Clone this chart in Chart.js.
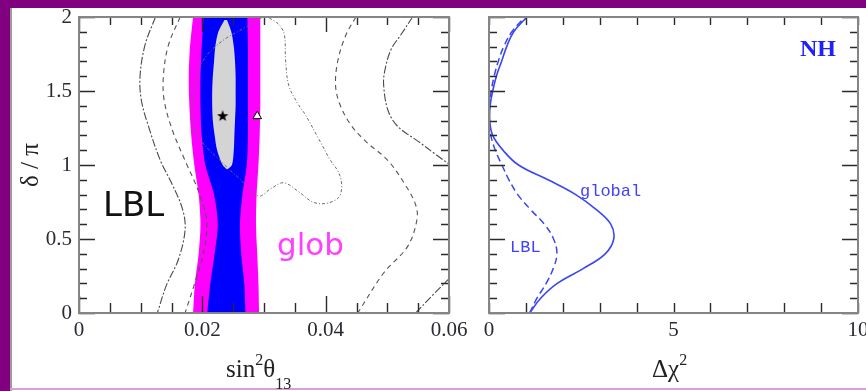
<!DOCTYPE html>
<html>
<head>
<meta charset="utf-8">
<script src="https://cdn.jsdelivr.net/npm/chart.js@4.4.0/dist/chart.umd.min.js"></script>
<style>
  html, body { margin: 0; padding: 0; background: #fff; }
  #wrap { position: relative; width: 866px; height: 391px; overflow: hidden; background: #fff; }
  .band { position: absolute; background: #800080; }
  canvas { position: absolute; }
  .txt { position: absolute; white-space: nowrap; line-height: 1; }
  .serif { font-family: "Liberation Serif", "DejaVu Serif", serif; color: #222; }
</style>
</head>
<body>
<div id="wrap">
  <div class="band" style="left:0;top:0;width:866px;height:8px"></div>
  <div class="band" style="left:0;top:0;width:10px;height:391px"></div>
  <div style="position:absolute;left:10px;top:8px;width:2px;height:383px;background:#9a9a9a"></div>
  <div style="position:absolute;left:10px;top:388px;width:856px;height:2px;background:#d8a0d8"></div>

  <canvas id="left" width="470" height="383" style="left:10px;top:8px"></canvas>
  <canvas id="right" width="406" height="383" style="left:460px;top:8px"></canvas>

  <!-- annotations -->
  <div class="txt" style="left:103px;top:184px;font:34px 'DejaVu Sans';color:#111">LBL</div>
  <div class="txt" style="left:277px;top:226px;font:31px 'DejaVu Sans';color:#ff40ff">glob</div>
  <div class="txt" style="left:580px;top:182px;font:17px 'Liberation Mono';color:#4040ff">global</div>
  <div class="txt" style="left:510px;top:238px;font:17px 'Liberation Mono';color:#4040ff">LBL</div>
  <div class="txt" style="left:800px;top:35px;font:bold 24px 'Liberation Serif';color:#2020ff">NH</div>

  <!-- axis titles -->
  <div class="txt serif" style="left:226px;top:356px;font-size:25px">sin<span style="font-size:16px;position:relative;top:-12px">2</span>θ<span style="font-size:16px;position:relative;top:12px">13</span></div>
  <div class="txt serif" style="left:652px;top:356px;font-size:25px">Δχ<span style="font-size:16px;position:relative;top:-12px">2</span></div>
  <div class="txt serif" style="left:29px;top:165px;font-size:25px;transform:translate(-50%,-50%) rotate(-90deg)">δ / π</div>
</div>

<script>
// ---------- left panel: sin^2(theta13) vs delta/pi ----------
// filled global regions, edges given as x at each delta/pi
const bandDelta    = [0, 0.2, 0.4, 0.6, 0.8, 1.0, 1.2, 1.4, 1.6, 1.8, 2.0];
const magentaLeft  = [0.0185, 0.0188, 0.0194, 0.0197, 0.0194, 0.0187, 0.0182, 0.0179, 0.0178, 0.0180, 0.0185];
const magentaRight = [0.0292, 0.0291, 0.0289, 0.0287, 0.0288, 0.0291, 0.0293, 0.0294, 0.0294, 0.0294, 0.0294];
const blueLeft     = [0.0208, 0.0213, 0.0220, 0.0225, 0.0219, 0.0205, 0.0199, 0.0197, 0.0197, 0.0199, 0.0202];
const blueRight    = [0.0270, 0.0268, 0.0263, 0.0261, 0.0265, 0.0272, 0.0274, 0.0274, 0.0274, 0.0274, 0.0273];

const grayDelta = [0.97, 1.0, 1.1, 1.2, 1.3, 1.4, 1.5, 1.6, 1.7, 1.8, 1.9, 1.98];
const grayLeft  = [0.0240, 0.0233, 0.0224, 0.0220, 0.0217, 0.0216, 0.0216, 0.0217, 0.0219, 0.0221, 0.0226, 0.0236];
const grayRight = [0.0240, 0.0248, 0.0251, 0.0252, 0.0253, 0.0254, 0.0254, 0.0254, 0.0253, 0.0251, 0.0247, 0.0240];

// LBL contour lines
const outerLeftX  = [0.0124, 0.0107, 0.0099, 0.0101, 0.0112, 0.0132, 0.0151, 0.0168, 0.0172, 0.0161, 0.0142, 0.0127];
const outerLeftD  = [2.0, 1.81, 1.60, 1.44, 1.27, 1.03, 0.87, 0.70, 0.56, 0.36, 0.19, 0.0];
const midLeftX    = [0.0164, 0.0145, 0.0137, 0.0138, 0.0151, 0.0172, 0.0193, 0.0207, 0.0203, 0.0189, 0.0172];
const midLeftD    = [2.0, 1.81, 1.61, 1.44, 1.24, 1.03, 0.83, 0.63, 0.43, 0.22, 0.0];
const innerX = [0.0298, 0.0270, 0.0233, 0.0202, 0.0187, 0.0184, 0.0197, 0.0229, 0.0262, 0.0291, 0.0311, 0.0332, 0.0356,
                0.0379, 0.0400, 0.0421, 0.0426, 0.0421, 0.0408, 0.0387, 0.0367, 0.0354, 0.0340, 0.0335, 0.0333, 0.0324, 0.0306];
const innerD = [2.0, 1.93, 1.84, 1.71, 1.51, 1.30, 1.17, 1.03, 0.90, 0.79, 0.84, 0.88, 0.82,
                0.75, 0.74, 0.78, 0.86, 0.95, 1.03, 1.19, 1.34, 1.42, 1.54, 1.71, 1.88, 1.95, 2.0];
const midRightX   = [0.0449, 0.0433, 0.0420, 0.0416, 0.0423, 0.0441, 0.0465, 0.0501, 0.0530, 0.0546, 0.0548, 0.0533, 0.0494, 0.0452];
const midRightD   = [2.0, 1.88, 1.71, 1.54, 1.41, 1.27, 1.16, 1.03, 0.86, 0.73, 0.63, 0.45, 0.27, 0.0];
const outerRightX = [0.0541, 0.0522, 0.0506, 0.0496, 0.0494, 0.0501, 0.0517, 0.0550, 0.0579, 0.0602];
const outerRightD = [2.0, 1.88, 1.78, 1.64, 1.54, 1.37, 1.26, 1.16, 1.07, 1.0];
const outerLowX   = [0.0546, 0.0571, 0.0602];
const outerLowD   = [0.0, 0.11, 0.24];

const bestFit = { x: 0.0233, y: 1.33 };   // star
const lblBest = { x: 0.0289, y: 1.33 };   // triangle

// ---------- right panel: delta chi^2 vs delta/pi ----------
const chiDelta  = [0, 0.1, 0.2, 0.3, 0.4, 0.5, 0.6, 0.7, 0.8, 0.9, 1.0, 1.1, 1.2, 1.3, 1.4, 1.5, 1.6, 1.7, 1.8, 1.9, 2.0];
const chiGlobal = [1.10, 1.40, 1.85, 2.55, 3.15, 3.38, 3.30, 2.90, 2.35, 1.60, 0.80, 0.38, 0.10, 0.02, 0.03, 0.10, 0.20, 0.34, 0.48, 0.67, 1.03];
const chiLBL    = [1.10, 1.30, 1.55, 1.74, 1.84, 1.75, 1.50, 1.12, 0.78, 0.54, 0.35, 0.17, 0.05, 0.01, 0.02, 0.06, 0.14, 0.25, 0.40, 0.62, 0.98];

const pts = (xs, ys) => xs.map((x, i) => ({ x: x, y: ys[i] }));

function starImage(size) {
  const c = document.createElement('canvas');
  c.width = c.height = size;
  const g = c.getContext('2d');
  g.fillStyle = '#000';
  g.beginPath();
  for (let i = 0; i < 10; i++) {
    const r = i % 2 ? size * 0.2 : size * 0.5;
    const a = -Math.PI / 2 + i * Math.PI / 5;
    g.lineTo(size / 2 + r * Math.cos(a), size / 2 + r * Math.sin(a));
  }
  g.closePath();
  g.fill();
  return c;
}

// inward tick marks on all four sides + frame
const inwardTicks = {
  id: 'inwardTicks',
  afterDraw(chart, args, opts) {
    const { ctx, chartArea: a, scales: { x, y } } = chart;
    const isMajor = (v, step) => Math.abs(v / step - Math.round(v / step)) < 1e-6;
    ctx.save();
    ctx.strokeStyle = '#2a2a2a';
    ctx.lineWidth = 1.4;
    ctx.beginPath();
    x.ticks.forEach(t => {
      const px = Math.round(x.getPixelForValue(t.value)) + 0.5;
      const len = isMajor(t.value, opts.xMajor) ? opts.majorLen : opts.minorLen;
      ctx.moveTo(px, a.bottom); ctx.lineTo(px, a.bottom - len - 1);
      ctx.moveTo(px, a.top); ctx.lineTo(px, a.top + len - 1);
    });
    y.ticks.forEach(t => {
      const py = Math.round(y.getPixelForValue(t.value)) + 0.5;
      const len = isMajor(t.value, opts.yMajor) ? 16 : 8;
      ctx.moveTo(a.left, py); ctx.lineTo(a.left + len, py);
      ctx.moveTo(a.right, py); ctx.lineTo(a.right - len, py);
    });
    ctx.stroke();
    ctx.strokeStyle = '#858585';
    ctx.lineWidth = 2;
    ctx.strokeRect(a.left, a.top, a.right - a.left, a.bottom - a.top);
    ctx.restore();
  }
};

const tickFont = { family: "'Liberation Serif', serif", size: 21 };

function contour(xs, ds, dash, color, width) {
  return { data: pts(xs, ds), borderColor: color, borderWidth: width || 1.1, borderDash: dash,
           fill: false, tension: 0.35, pointRadius: 0 };
}
function edge(xs, ds, color, fillNext) {
  return { data: pts(xs, ds), borderWidth: 0, borderColor: 'rgba(0,0,0,0)', backgroundColor: color,
           fill: fillNext ? '+1' : false, tension: 0.3, pointRadius: 0 };
}

new Chart(document.getElementById('left'), {
  type: 'line',
  data: {
    datasets: [
      { data: [bestFit], pointStyle: starImage(12), showLine: false },
      { data: [lblBest], pointStyle: 'triangle', pointRadius: 5, backgroundColor: '#fff',
        borderColor: '#000', borderWidth: 1, showLine: false },
      contour(innerX, innerD, [3, 2, 1, 2], '#6a6a6a', 1),
      contour(outerLeftX, outerLeftD, [8, 2, 2, 2], '#4a4a4a'),
      contour(midLeftX, midLeftD, [5, 4], '#555'),
      contour(midRightX, midRightD, [5, 4], '#555'),
      contour(outerRightX, outerRightD, [8, 2, 2, 2], '#4a4a4a'),
      contour(outerLowX, outerLowD, [8, 2, 2, 2], '#4a4a4a'),
      edge(grayLeft, grayDelta, '#d4d4d4', true),
      edge(grayRight, grayDelta, '#d4d4d4', false),
      edge(blueLeft, bandDelta, '#0000ff', true),
      edge(blueRight, bandDelta, '#0000ff', false),
      edge(magentaLeft, bandDelta, '#ff00ff', true),
      edge(magentaRight, bandDelta, '#ff00ff', false)
    ]
  },
  options: {
    indexAxis: 'y',
    responsive: false,
    animation: false,
    devicePixelRatio: 1,
    layout: { padding: { top: 9, right: 31, left: 0, bottom: 0 } },
    plugins: {
      legend: { display: false },
      tooltip: { enabled: false },
      inwardTicks: { xMajor: 0.02, yMajor: 0.5, majorLen: 16, minorLen: 9 }
    },
    scales: {
      x: {
        type: 'linear', min: 0, max: 0.06,
        grid: { display: false, drawTicks: false },
        border: { display: false },
        ticks: {
          stepSize: 0.005, autoSkip: false, maxRotation: 0, padding: 5,
          font: tickFont, color: '#2a2a35',
          callback: v => Math.abs(v / 0.02 - Math.round(v / 0.02)) < 1e-6 ? (v === 0 ? '0' : v.toFixed(2)) : ''
        },
        afterFit: s => { s.height = 78; s.paddingLeft = 0; s.paddingRight = 0; }
      },
      y: {
        type: 'linear', min: 0, max: 2,
        grid: { display: false, drawTicks: false },
        border: { display: false },
        ticks: {
          stepSize: 0.1, autoSkip: false, padding: 7,
          font: tickFont, color: '#2a2a35',
          callback: v => Math.abs(v * 2 - Math.round(v * 2)) < 1e-6 ? String(+v.toFixed(1)) : ''
        },
        afterFit: s => { s.width = 69; s.paddingTop = 0; s.paddingBottom = 0; }
      }
    }
  },
  plugins: [inwardTicks]
});

new Chart(document.getElementById('right'), {
  type: 'line',
  data: {
    datasets: [
      { data: pts(chiGlobal, chiDelta), borderColor: '#3a46f0', borderWidth: 1.6, tension: 0.4, pointRadius: 0, fill: false },
      { data: pts(chiLBL, chiDelta), borderColor: '#3a46f0', borderWidth: 1.5, borderDash: [7, 4], tension: 0.4, pointRadius: 0, fill: false }
    ]
  },
  options: {
    indexAxis: 'y',
    responsive: false,
    animation: false,
    devicePixelRatio: 1,
    layout: { padding: { top: 9, right: 8, left: 0, bottom: 0 } },
    plugins: {
      legend: { display: false },
      tooltip: { enabled: false },
      inwardTicks: { xMajor: 5, yMajor: 0.5, majorLen: 9, minorLen: 9 }
    },
    scales: {
      x: {
        type: 'linear', min: 0, max: 10,
        grid: { display: false, drawTicks: false },
        border: { display: false },
        ticks: {
          stepSize: 1, autoSkip: false, maxRotation: 0, padding: 5,
          font: tickFont, color: '#2a2a35',
          callback: v => v % 5 === 0 ? String(v) : ''
        },
        afterFit: s => { s.height = 78; s.paddingLeft = 0; s.paddingRight = 0; }
      },
      y: {
        type: 'linear', min: 0, max: 2,
        grid: { display: false, drawTicks: false },
        border: { display: false },
        ticks: { stepSize: 0.1, display: false },
        afterFit: s => { s.width = 29; s.paddingTop = 0; s.paddingBottom = 0; }
      }
    }
  },
  plugins: [inwardTicks]
});
</script>
</body>
</html>
